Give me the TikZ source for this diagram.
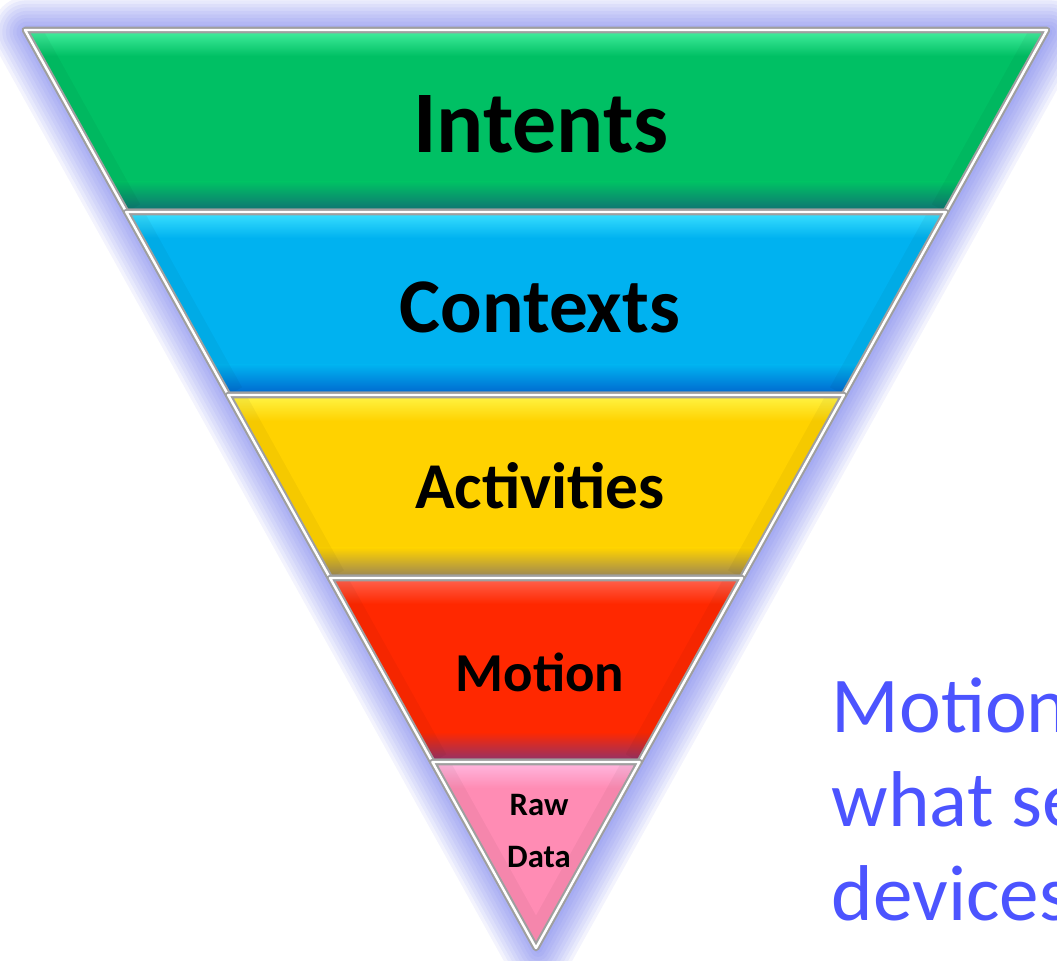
\documentclass[tikz,border=0pt]{standalone}
\usepackage{fontspec}
\setmainfont{Carlito}
\usepackage{tikz}
\definecolor{glowblue}{RGB}{90,100,232}
\definecolor{noteblue}{RGB}{76,84,255}
\definecolor{intentsmain}{RGB}{0,192,100}
\definecolor{intentslight}{RGB}{70,240,160}
\definecolor{intentsdark}{RGB}{16,110,115}
\definecolor{contextsmain}{RGB}{0,178,240}
\definecolor{contextslight}{RGB}{60,225,255}
\definecolor{contextsdark}{RGB}{0,100,205}
\definecolor{activitiesmain}{RGB}{255,210,0}
\definecolor{activitieslight}{RGB}{255,245,70}
\definecolor{activitiesdark}{RGB}{150,130,90}
\definecolor{motionmain}{RGB}{255,40,0}
\definecolor{motionlight}{RGB}{255,100,80}
\definecolor{motiondark}{RGB}{140,50,110}
\definecolor{rawmain}{RGB}{255,140,180}
\definecolor{rawlight}{RGB}{255,185,225}
\tikzstyle{bandlabel} = [text=black, inner sep=0pt, anchor=base]
\tikzstyle{silverframe} = [draw=gray!75, line width=1.9pt, line join=round]
\tikzstyle{silverlight} = [draw=white, line width=0.7pt, line join=round]
\tikzstyle{note} = [text=noteblue, inner sep=0pt, anchor=base west,
    font=\fontsize{22.5}{27}\selectfont]

\begin{document}
\begin{tikzpicture}[x=0.01cm, y=-0.01cm]
\useasboundingbox (0,0) rectangle (1057,961);
\clip (0,0) rectangle (1057,961);

% blue glow round the funnel
\foreach \w in {2,4,...,20}
    \draw[glowblue, opacity=.075, line width=\w pt, line join=round]
        (27,32) -- (1049,32) -- (538,950) -- cycle;

% the five bands
\foreach \ya/\yb/\main/\light/\dark in {30/212/intentsmain/intentslight/intentsdark,
    212/395/contextsmain/contextslight/contextsdark,
    395/578/activitiesmain/activitieslight/activitiesdark,
    578/762/motionmain/motionlight/motiondark,
    762/948/rawmain/rawlight/rawmain}{
    \pgfmathsetmacro\xla{25+(\ya-30)*0.5566}
    \pgfmathsetmacro\xra{1047-(\ya-30)*0.5566}
    \pgfmathsetmacro\xlb{25+(\yb-30)*0.5566}
    \pgfmathsetmacro\xrb{1047-(\yb-30)*0.5566}
    \begin{scope}
        \clip (\xla,\ya) -- (\xra,\ya) -- (\xrb,\yb) -- (\xlb,\yb) -- cycle;
        \fill[\main] (0,\ya) rectangle (1057,\yb);
        \fill[top color=\light, bottom color=\main] (0,\ya) rectangle (1057,\ya+26);
        \fill[top color=\main, bottom color=\dark] (0,\yb-30) rectangle (1057,\yb);
        \draw[black, opacity=.04, line width=9pt] (\xla,\ya) -- (\xlb,\yb)
            (\xra,\ya) -- (\xrb,\yb);
    \end{scope}
    \draw[silverframe] (\xla,\ya) -- (\xra,\ya) -- (\xrb,\yb) -- (\xlb,\yb) -- cycle;
    \draw[silverlight] (\xla,\ya) -- (\xra,\ya) -- (\xrb,\yb) -- (\xlb,\yb) -- cycle;
}

\node[bandlabel, font=\fontsize{25}{30}\selectfont\bfseries] (intents) at (541,153) {Intents};
\node[bandlabel, font=\fontsize{22}{26}\selectfont\bfseries] (contexts) at (540,333) {Contexts};
\node[bandlabel, font=\fontsize{18.6}{22}\selectfont\bfseries] (activities) at (540,509) {Activities};
\node[bandlabel, font=\fontsize{15.6}{18}\selectfont\bfseries] (motion) at (540,692) {Motion};
\node[bandlabel, font=\fontsize{9.3}{11}\selectfont\bfseries] (raw) at (539,816) {Raw};
\node[bandlabel, font=\fontsize{9.3}{11}\selectfont\bfseries] (data) at (539,867) {Data};

\node[note] (note1) at (831,732) {Motion};
\node[note] (note2) at (831,827) {what se};
\node[note] (note3) at (831,920) {devices};
\end{tikzpicture}
\end{document}
